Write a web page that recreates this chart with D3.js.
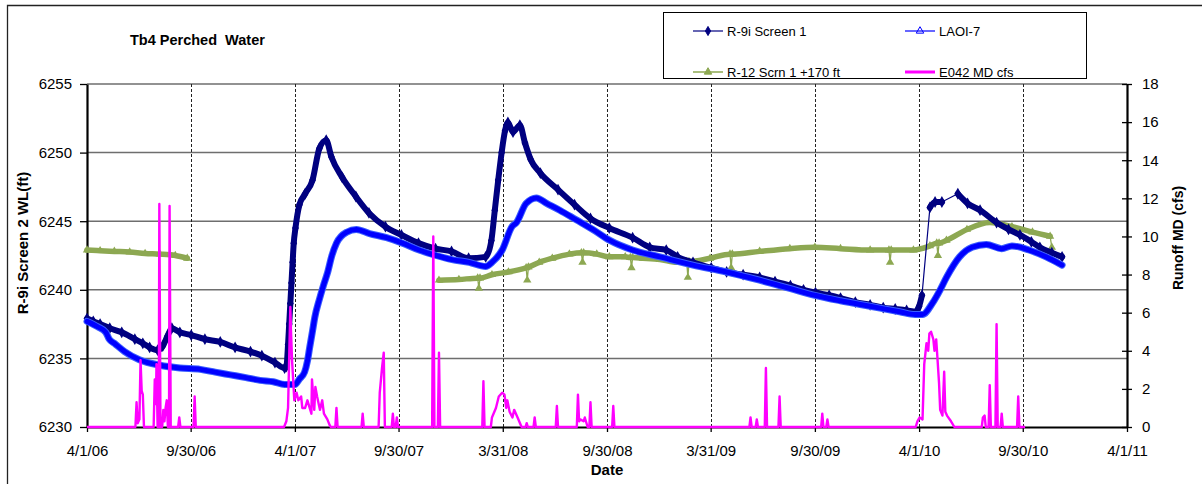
<!DOCTYPE html>
<html><head><meta charset="utf-8">
<script src="https://cdn.jsdelivr.net/npm/d3@7"></script>
<style>
body{margin:0;background:#fff}
svg{display:block}
text{font-family:Arial,"Liberation Sans",sans-serif;fill:#000}
</style>
</head><body>
<svg id="chart" width="1202" height="484"></svg>
<script>
// ---------------- DATA ----------------
const chartTitle = "Tb4 Perched  Water";
const xTickLabels = ["4/1/06","9/30/06","4/1/07","9/30/07","3/31/08","9/30/08","3/31/09","9/30/09","4/1/10","9/30/10","4/1/11"];
const leftTicks = [6230,6235,6240,6245,6250,6255];
const rightTicks = [0,2,4,6,8,10,12,14,16,18];
const seriesNames = ["R-9i Screen 1","LAOI-7","R-12 Scrn 1 +170 ft","E042 MD cfs"];

const r9iScreen1 = [
["2006-04-01",6237.9],["2006-04-12",6237.7],["2006-04-24",6237.5],["2006-05-11",6237.2],["2006-06-01",6236.9],["2006-06-24",6236.4],["2006-07-08",6236.1],["2006-07-20",6235.8],["2006-08-03",6235.6],["2006-08-12",6235.9],["2006-08-20",6236.6],["2006-08-28",6237.2],["2006-09-11",6236.9],["2006-10-01",6236.7],["2006-10-25",6236.4],["2006-11-21",6236.2],["2006-12-17",6235.8],["2007-01-13",6235.5],["2007-02-02",6235.2],["2007-02-25",6234.7],["2007-03-14",6234.3],["2007-03-17",6234.4],["2007-03-20",6236.0],["2007-03-22",6237.5],["2007-03-24",6239.0],["2007-03-26",6240.5],["2007-03-28",6242.0],["2007-03-30",6243.4],["2007-04-02",6244.5],["2007-04-09",6246.2],["2007-04-19",6247.0],["2007-05-02",6248.0],["2007-05-14",6250.3],["2007-05-26",6250.9],["2007-06-04",6249.7],["2007-06-23",6248.2],["2007-07-17",6246.8],["2007-08-09",6245.6],["2007-09-07",6244.6],["2007-10-05",6244.0],["2007-11-04",6243.4],["2007-12-04",6243.0],["2008-01-01",6242.8],["2008-01-31",6242.3],["2008-03-01",6242.4],["2008-03-11",6243.6],["2008-03-17",6245.8],["2008-03-23",6248.0],["2008-03-29",6250.0],["2008-04-04",6251.6],["2008-04-09",6252.2],["2008-04-18",6251.5],["2008-04-30",6252.0],["2008-05-09",6250.7],["2008-05-19",6249.5],["2008-06-05",6248.5],["2008-07-06",6247.3],["2008-08-04",6246.2],["2008-09-01",6245.2],["2008-10-04",6244.5],["2008-11-14",6243.8],["2008-12-14",6243.1],["2009-01-12",6242.9],["2009-02-01",6242.4],["2009-02-28",6242.0],["2009-04-01",6241.6],["2009-04-28",6241.3],["2009-05-27",6241.1],["2009-06-25",6240.9],["2009-07-22",6240.6],["2009-08-18",6240.3],["2009-09-10",6240.0],["2009-10-01",6239.8],["2009-10-25",6239.6],["2009-11-14",6239.4],["2009-12-10",6239.1],["2010-01-05",6238.9],["2010-01-28",6238.7],["2010-02-18",6238.6],["2010-03-10",6238.5],["2010-03-27",6238.4],["2010-04-01",6238.8],["2010-04-06",6239.6],["2010-04-20",6246.0],["2010-04-29",6246.4],["2010-05-11",6246.4],["2010-06-08",6247.0],["2010-06-25",6246.3],["2010-07-17",6245.8],["2010-08-15",6244.9],["2010-09-05",6244.4],["2010-09-25",6244.0],["2010-10-15",6243.5],["2010-10-30",6243.1],["2010-11-20",6242.7],["2010-12-08",6242.4]
];
// dates after which R-9i has no readings until the next point
const r9iGaps = ["2010-04-06","2010-05-11"];

const laoi7 = [
["2006-04-01",6237.7],["2006-04-20",6237.3],["2006-05-04",6236.9],["2006-05-10",6236.4],["2006-05-19",6236.1],["2006-06-06",6235.5],["2006-07-02",6234.9],["2006-08-07",6234.5],["2006-09-11",6234.3],["2006-10-17",6234.2],["2006-11-12",6234.0],["2006-12-09",6233.8],["2007-01-05",6233.6],["2007-01-30",6233.4],["2007-02-22",6233.3],["2007-03-14",6233.1],["2007-04-01",6233.1],["2007-04-09",6233.5],["2007-04-18",6234.0],["2007-04-23",6234.8],["2007-04-27",6235.8],["2007-05-02",6237.0],["2007-05-06",6238.0],["2007-05-14",6239.3],["2007-05-21",6240.3],["2007-05-28",6241.2],["2007-06-05",6242.5],["2007-06-13",6243.4],["2007-07-01",6244.2],["2007-07-18",6244.4],["2007-08-10",6244.1],["2007-09-09",6243.8],["2007-10-07",6243.4],["2007-11-05",6242.9],["2007-12-05",6242.5],["2008-01-02",6242.2],["2008-02-01",6242.0],["2008-03-01",6241.7],["2008-03-12",6242.0],["2008-03-30",6242.9],["2008-04-16",6244.6],["2008-04-24",6244.9],["2008-05-11",6246.3],["2008-05-29",6246.7],["2008-06-16",6246.3],["2008-07-09",6245.8],["2008-08-07",6245.1],["2008-09-05",6244.4],["2008-10-05",6243.6],["2008-11-14",6242.9],["2009-01-01",6242.4],["2009-02-28",6241.8],["2009-04-28",6241.3],["2009-06-25",6240.7],["2009-08-17",6240.1],["2009-09-30",6239.6],["2009-11-14",6239.2],["2010-01-05",6238.8],["2010-02-26",6238.4],["2010-03-25",6238.2],["2010-04-07",6238.2],["2010-04-24",6239.0],["2010-05-08",6240.0],["2010-05-19",6240.9],["2010-06-11",6242.4],["2010-07-03",6243.1],["2010-07-28",6243.3],["2010-08-24",6243.0],["2010-09-11",6243.2],["2010-10-11",6242.9],["2010-11-10",6242.4],["2010-12-08",6241.8]
];

const r12Scrn1 = [
["2006-04-01",6242.9],["2006-04-24",6242.85],["2006-05-19",6242.8],["2006-06-15",6242.75],["2006-07-12",6242.65],["2006-08-07",6242.6],["2006-09-03",6242.5],["2006-09-24",6242.3],
["2007-06-01",null],
["2007-12-10",6240.7],["2008-01-14",6240.75],["2008-02-16",6240.85],["2008-02-18",6240.1],["2008-02-20",6240.85],["2008-03-12",6241.1],["2008-04-10",6241.3],["2008-05-11",6241.6],["2008-05-13",6240.7],["2008-05-15",6241.65],["2008-06-03",6242.0],["2008-06-26",6242.3],["2008-07-26",6242.6],["2008-08-16",6242.7],["2008-08-18",6242.0],["2008-08-20",6242.7],["2008-09-12",6242.6],["2008-10-04",6242.4],["2008-11-01",6242.4],["2008-11-10",6242.35],["2008-11-12",6241.6],["2008-11-14",6242.35],["2008-12-02",6242.3],["2009-01-01",6242.2],["2009-02-01",6242.0],["2009-02-17",6242.05],["2009-02-19",6240.9],["2009-02-21",6242.05],["2009-03-30",6242.3],["2009-05-04",6242.6],["2009-05-06",6241.6],["2009-05-08",6242.6],["2009-06-25",6242.8],["2009-08-17",6243.0],["2009-09-30",6243.1],["2009-11-14",6243.0],["2010-01-05",6242.9],["2010-02-07",6242.9],["2010-02-09",6242.0],["2010-02-11",6242.9],["2010-03-22",6242.9],["2010-04-20",6243.2],["2010-05-02",6243.4],["2010-05-04",6242.5],["2010-05-06",6243.4],["2010-05-19",6243.6],["2010-06-24",6244.4],["2010-08-03",6244.9],["2010-09-11",6244.6],["2010-10-17",6244.2],["2010-11-17",6243.9],["2010-11-20",6243.1]
];
// isolated low R-12 readings (drawn as thin dips below the band)
const r12OutlierDates = ["2008-02-18","2008-05-13","2008-08-18","2008-11-12","2009-02-19","2009-05-06","2010-02-09","2010-05-04","2010-11-20"];

const e042MdCfs = [
["2006-04-01",0],["2006-06-25",0],["2006-06-27",1.3],["2006-06-29",0.2],["2006-07-02",0.4],["2006-07-04",3.5],["2006-07-06",1.9],["2006-07-08",1.7],["2006-07-10",0],["2006-07-27",0],["2006-07-29",2.5],["2006-07-31",1.2],["2006-08-01",3.3],["2006-08-03",0],["2006-08-05",0],["2006-08-06",11.7],["2006-08-08",0],["2006-08-11",0],["2006-08-13",0.9],["2006-08-15",0.3],["2006-08-17",1.0],["2006-08-19",1.4],["2006-08-21",0],["2006-08-23",0],["2006-08-24",11.6],["2006-08-26",0],["2006-09-08",0],["2006-09-10",0.5],["2006-09-12",0],["2006-10-05",0],["2006-10-07",1.6],["2006-10-09",0],
["2007-03-13",0],["2007-03-17",0.3],["2007-03-20",1.0],["2007-03-24",6.3],["2007-03-25",5.2],["2007-03-27",3.5],["2007-03-31",1.4],["2007-04-04",1.8],["2007-04-07",1.4],["2007-04-12",1.6],["2007-04-14",1.0],["2007-04-19",1.0],["2007-04-23",1.4],["2007-04-30",0.7],["2007-05-01",2.5],["2007-05-05",0.9],["2007-05-07",2.1],["2007-05-10",1.6],["2007-05-15",0.9],["2007-05-19",1.4],["2007-05-22",0.7],["2007-05-28",0.4],["2007-06-01",0.1],["2007-06-03",0],["2007-06-11",0],["2007-06-13",1.0],["2007-06-15",0],["2007-07-27",0],["2007-07-29",0.7],["2007-07-31",0],["2007-08-26",0],["2007-08-28",1.8],["2007-09-01",3.1],["2007-09-04",3.9],["2007-09-06",0],["2007-09-18",0],["2007-09-20",0.7],["2007-09-22",0],["2007-09-25",0],["2007-09-27",0.5],["2007-09-29",0],
["2007-11-28",0],["2007-11-30",10.0],["2007-12-02",0],["2007-12-08",0],["2007-12-10",3.9],["2007-12-12",0],
["2008-02-24",0],["2008-02-26",2.4],["2008-02-28",0],["2008-03-10",0],["2008-03-12",0.5],["2008-03-19",1.0],["2008-03-24",1.6],["2008-03-30",1.8],["2008-04-03",1.7],["2008-04-06",1.0],["2008-04-08",1.4],["2008-04-12",0.8],["2008-04-17",0.5],["2008-04-20",0.9],["2008-04-26",0.5],["2008-05-03",0],["2008-05-10",0],["2008-05-12",0.2],["2008-05-14",0],["2008-05-24",0],["2008-05-26",0.5],["2008-05-28",0],["2008-07-02",0],["2008-07-04",1.1],["2008-07-06",0],["2008-08-08",0],["2008-08-10",1.7],["2008-08-12",0.3],["2008-08-14",0.4],["2008-08-20",0.3],["2008-08-22",0.5],["2008-08-27",0],["2008-08-30",0],["2008-09-01",1.3],["2008-09-03",0],["2008-10-09",0],["2008-10-11",1.1],["2008-10-13",0],
["2009-06-07",0],["2009-06-09",0.5],["2009-06-11",0],["2009-06-18",0],["2009-06-20",0.4],["2009-06-22",0],["2009-07-04",0],["2009-07-06",3.1],["2009-07-08",0],["2009-07-28",0],["2009-07-30",1.6],["2009-08-01",0],["2009-10-11",0],["2009-10-13",0.7],["2009-10-15",0],["2009-10-20",0],["2009-10-22",0.4],["2009-10-24",0],
["2010-03-26",0],["2010-03-29",0.3],["2010-04-02",0.5],["2010-04-07",0.4],["2010-04-10",3.3],["2010-04-14",4.4],["2010-04-17",4.0],["2010-04-19",4.9],["2010-04-22",5.0],["2010-04-26",4.6],["2010-04-28",4.0],["2010-05-01",4.6],["2010-05-03",3.7],["2010-05-06",2.3],["2010-05-08",0.9],["2010-05-12",0.6],["2010-05-15",2.9],["2010-05-17",0.8],["2010-05-20",0.6],["2010-05-27",0.3],["2010-06-02",0],["2010-07-20",0],["2010-07-22",0.5],["2010-07-25",0.6],["2010-07-27",0],["2010-08-01",0],["2010-08-03",2.2],["2010-08-05",0],["2010-08-13",0],["2010-08-15",5.4],["2010-08-17",0],["2010-08-22",0],["2010-08-24",0.7],["2010-08-26",0],["2010-09-20",0],["2010-09-22",1.6],["2010-09-24",0],["2010-10-04",0]
];

// ---------------- CHART ----------------
const svg = d3.select("#chart");
const parseISO = d3.timeParse("%Y-%m-%d");
const parseTick = d3.timeParse("%m/%d/%y");
const prep = arr => arr.map(d => ({key: d[0], date: parseISO(d[0]), value: d[1]}));

const plot = {left: 87, right: 1127, top: 84, bottom: 427};
const tickDates = xTickLabels.map(parseTick);
const x = d3.scaleTime().domain([tickDates[0], tickDates[tickDates.length-1]]).range([plot.left, plot.right]);
const yL = d3.scaleLinear().domain([leftTicks[0], leftTicks[leftTicks.length-1]]).range([plot.bottom, plot.top]);
const yR = d3.scaleLinear().domain([rightTicks[0], rightTicks[rightTicks.length-1]]).range([plot.bottom, plot.top]);

// outer chart frame
svg.append("path").attr("d", "M7.5,484 L7.5,5.5 L1202,5.5").attr("fill","none").attr("stroke","#222").attr("stroke-width",1.3);

// title
svg.append("text").attr("x",130).attr("y",45).attr("font-size",14.5).attr("font-weight","bold")
  .attr("xml:space","preserve").style("white-space","pre").text(chartTitle);

// horizontal grid
svg.append("g").selectAll("line").data(leftTicks.slice(1)).join("line")
  .attr("x1",plot.left).attr("x2",plot.right).attr("y1",d=>yL(d)).attr("y2",d=>yL(d))
  .attr("stroke","#6e6e6e").attr("stroke-width",1.5);
// vertical dashed grid
svg.append("g").selectAll("line").data(tickDates.slice(1,-1)).join("line")
  .attr("x1",d=>Math.round(x(d))+0.5).attr("x2",d=>Math.round(x(d))+0.5).attr("y1",plot.top).attr("y2",plot.bottom)
  .attr("stroke","#222").attr("stroke-width",1).attr("stroke-dasharray","3,2");

// axes
const axL = svg.append("g").attr("transform",`translate(${plot.left},0)`)
  .call(d3.axisLeft(yL).tickValues(leftTicks).tickSize(7).tickSizeOuter(0).tickPadding(8).tickFormat(d3.format("d")));
const axB = svg.append("g").attr("transform",`translate(0,${plot.bottom})`)
  .call(d3.axisBottom(x).tickValues(tickDates).tickSize(5).tickSizeOuter(0).tickPadding(13).tickFormat((d,i)=>xTickLabels[i]));
const axR = svg.append("g").attr("transform",`translate(${plot.right},0)`)
  .call(d3.axisRight(yR).tickValues(rightTicks).tickSize(5).tickSizeOuter(0).tickPadding(10));
axR.selectAll(".tick line").attr("x1",-5);
[axL,axB,axR].forEach(a=>{
  a.select(".domain").attr("stroke","#000").attr("stroke-width",2.2);
  a.selectAll(".tick line").attr("stroke","#000").attr("stroke-width",1.3);
  a.selectAll(".tick text").attr("font-size",15).attr("font-family","Arial, 'Liberation Sans', sans-serif").attr("fill","#000");
});

// axis titles
svg.append("text").attr("transform","translate(28,243) rotate(-90)").attr("text-anchor","middle")
  .attr("font-size",15).attr("font-weight","bold").text("R-9i Screen 2 WL(ft)");
svg.append("text").attr("transform","translate(1183,238) rotate(-90)").attr("text-anchor","middle")
  .attr("font-size",14).attr("font-weight","bold").text("Runoff MD (cfs)");
svg.append("text").attr("x",607).attr("y",475).attr("text-anchor","middle")
  .attr("font-size",15).attr("font-weight","bold").text("Date");

// series
const olive = "#8DA852", navy = "#000080", blue = "#0000FF", magenta = "#FF00FF";
const lineL = d3.line().defined(d=>d.value!==null).x(d=>x(d.date)).y(d=>yL(d.value));
const bandL = d3.line().defined(d=>d.value!==null).curve(d3.curveMonotoneX).x(d=>x(d.date)).y(d=>yL(d.value));
const lineR = d3.line().x(d=>x(d.date)).y(d=>yR(d.value));
const gS = svg.append("g");

// R-12 (olive)
const r12 = prep(r12Scrn1);
const outSet = new Set(r12OutlierDates);
gS.append("path").datum(r12).attr("d",lineL).attr("fill","none").attr("stroke",olive).attr("stroke-width",1.3);
gS.append("path").datum(r12.filter(d=>!outSet.has(d.key))).attr("d",bandL).attr("fill","none").attr("stroke",olive)
  .attr("stroke-width",5.5).attr("stroke-linejoin","round").attr("stroke-linecap","round");
gS.append("g").selectAll("path").data(r12.filter(d=>d.value!==null)).join("path")
  .attr("transform",d=>`translate(${x(d.date)},${yL(d.value)})`)
  .attr("d",d3.symbol(d3.symbolTriangle,30)).attr("fill",olive);

// R-9i (navy)
const r9 = prep(r9iScreen1);
gS.append("path").datum(r9).attr("d",lineL).attr("fill","none").attr("stroke",navy).attr("stroke-width",1.2);
const gapSet = new Set(r9iGaps);
const chunks = [[]];
r9.forEach(d=>{ chunks[chunks.length-1].push(d); if(gapSet.has(d.key)) chunks.push([]); });
chunks.filter(c=>c.length>1).forEach(c=>{
  gS.append("path").datum(c).attr("d",bandL).attr("fill","none").attr("stroke",navy)
    .attr("stroke-width",6).attr("stroke-linejoin","round").attr("stroke-linecap","round");
});
gS.append("g").selectAll("path").data(r9).join("path")
  .attr("transform",d=>`translate(${x(d.date)},${yL(d.value)})`)
  .attr("d",d3.symbol(d3.symbolDiamond,40)).attr("fill",navy);

// LAOI-7 (blue)
const la = prep(laoi7);
gS.append("path").datum(la).attr("d",bandL).attr("fill","none").attr("stroke","#3a5cff")
  .attr("stroke-width",7).attr("stroke-linejoin","round").attr("stroke-linecap","round");
gS.append("path").datum(la).attr("d",bandL).attr("fill","none").attr("stroke",blue)
  .attr("stroke-width",5).attr("stroke-linejoin","round").attr("stroke-linecap","round");

// E042 (magenta, right axis)
const e0 = prep(e042MdCfs);
gS.append("path").datum(e0).attr("d",lineR).attr("fill","none").attr("stroke",magenta)
  .attr("stroke-width",2.4).attr("stroke-linejoin","round");

// legend
const lg = svg.append("g");
lg.append("rect").attr("x",663.5).attr("y",12.5).attr("width",423).attr("height",66)
  .attr("fill","#fff").attr("stroke","#000").attr("stroke-width",1);
const legendItems = [
  {name:seriesNames[0], color:navy, x:693, y:31, sym:d3.symbolDiamond, fill:navy, w:1.2},
  {name:seriesNames[1], color:blue, x:905, y:31, sym:d3.symbolTriangle, fill:"none", w:1.2},
  {name:seriesNames[2], color:olive, x:693, y:72, sym:d3.symbolTriangle, fill:olive, w:1.5},
  {name:seriesNames[3], color:magenta, x:905, y:72, sym:null, fill:null, w:3}
];
legendItems.forEach(it=>{
  lg.append("line").attr("x1",it.x).attr("x2",it.x+30).attr("y1",it.y).attr("y2",it.y)
    .attr("stroke",it.color).attr("stroke-width",it.w);
  if(it.sym) lg.append("path").attr("transform",`translate(${it.x+15},${it.y})`)
    .attr("d",d3.symbol(it.sym,24)).attr("fill",it.fill).attr("stroke",it.color).attr("stroke-width",1);
  lg.append("text").attr("x",it.x+34).attr("y",it.y+5).attr("font-size",13).text(it.name);
});
</script>
</body></html>
